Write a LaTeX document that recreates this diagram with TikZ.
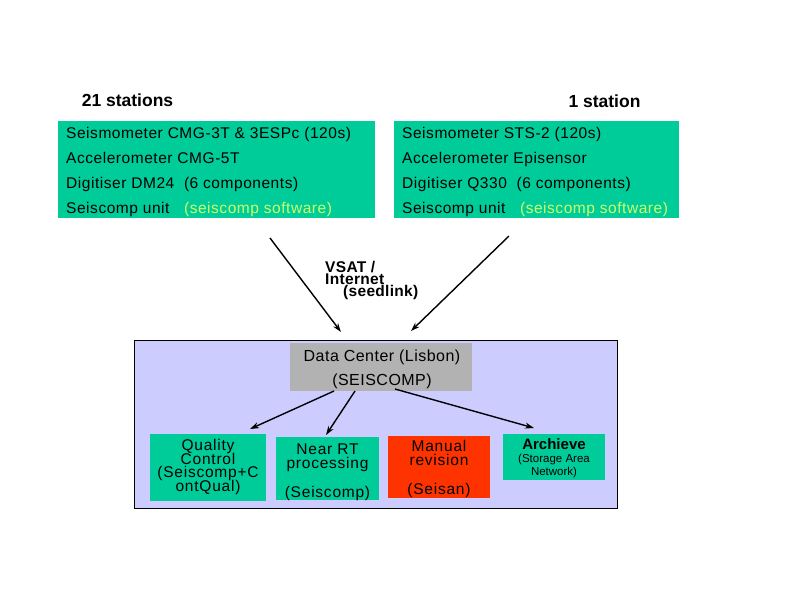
\documentclass[tikz,border=0pt]{standalone}
\usepackage{fontspec}
\setmainfont{Liberation Sans}
\usetikzlibrary{arrows.meta}
\definecolor{sgreen}{HTML}{00CC99}
\definecolor{sred}{HTML}{FF3300}
\definecolor{slav}{HTML}{CCCCFF}
\definecolor{sgray}{HTML}{B2B2B2}
\definecolor{syel}{HTML}{CCFF66}
\newcommand\fntTop{\fontsize{15.5}{16}\selectfont\addfontfeatures{LetterSpace=3.5}}
\newcommand\fntSub{\fontsize{15.5}{13.4}\selectfont\addfontfeatures{LetterSpace=5}\lineskiplimit=-100pt\relax}
\newcommand\fntDC{\fontsize{16}{24}\selectfont\addfontfeatures{LetterSpace=3}\lineskiplimit=-100pt\relax}
\newcommand\fntLink{\bfseries\fontsize{15.5}{11.8}\selectfont\addfontfeatures{LetterSpace=2}\lineskiplimit=-100pt\relax}
\newcommand\fntSmall{\mdseries\fontsize{11.5}{12}\selectfont\lineskiplimit=-100pt\relax}
\begin{document}
\begin{tikzpicture}[x=1pt,y=-1pt,
  panel/.style={anchor=north west, inner sep=0pt, outer sep=0pt},
  txt/.style={anchor=base west, inner sep=0pt, font=\fntTop},
  ctxt/.style={anchor=base, inner sep=0pt, align=center, font=\fntSub},
  head/.style={anchor=base, inner sep=0pt, font=\bfseries\fontsize{17.5}{18}\selectfont},
  arr/.style={line width=1.4pt, -{Stealth[length=9pt,width=6pt]}}]
\useasboundingbox (0,0) rectangle (794,595);
% headings
\node[head] (h1) at (127.5,106) {21 stations};
\node[head] (h2) at (604.5,107) {1 station};
% station boxes
\node[panel, fill=sgreen, minimum width=317pt, minimum height=97pt] (lbox) at (58,121) {};
\node[panel, fill=sgreen, minimum width=285pt, minimum height=97pt] (rbox) at (394,121) {};
\node[txt] (l1) at (66,138) {Seismometer CMG-3T \& 3ESPc (120s)};
\node[txt] (l2) at (66,163) {Accelerometer CMG-5T};
\node[txt] (l3) at (66,188) {Digitiser DM24\ \ (6 components)};
\node[txt] (l4) at (66,213) {Seiscomp unit\ \ \ \textcolor{syel}{(seiscomp software)}};
\node[txt] (r1) at (402,138) {Seismometer STS-2 (120s)};
\node[txt] (r2) at (402,163) {Accelerometer Episensor};
\node[txt] (r3) at (402,188) {Digitiser Q330\ \ (6 components)};
\node[txt] (r4) at (402,213) {Seiscomp unit\ \ \ \textcolor{syel}{(seiscomp software)}};
% link label (base anchor = last line)
\node[anchor=base west, inner sep=0pt, align=left, font=\fntLink] (vsat) at (325,296)
  {VSAT /\\Internet\\\hspace*{18pt}(seedlink)};
% data center panel
\node[panel, fill=slav, draw=black, line width=0.8pt, minimum width=483pt, minimum height=168pt] (dcp) at (134,340) {};
\node[panel, fill=sgray, minimum width=182pt, minimum height=48pt] (dc) at (290,343) {};
\node[ctxt, font=\fntDC] (dct) at (382,385) {Data Center (Lisbon)\\(SEISCOMP)};
% sub boxes
\node[panel, fill=sgreen, minimum width=116pt, minimum height=67pt] (qc) at (150,434) {};
\node[panel, fill=sgreen, minimum width=103pt, minimum height=63pt] (nrt) at (276,437) {};
\node[panel, fill=sred, minimum width=102pt, minimum height=62pt] (man) at (388,436) {};
\node[panel, fill=sgreen, minimum width=102pt, minimum height=46pt] (arc) at (503,434) {};
\node[ctxt] (qct) at (208,491) {Quality\\Control\\(Seiscomp+C\\ontQual)};
\node[ctxt] (nrtt) at (327.5,497.5) {Near RT\\processing\\[16pt](Seiscomp)};
\node[ctxt] (mant) at (439,494) {Manual\\revision\\[15.5pt](Seisan)};
\node[ctxt, font={\bfseries\fontsize{15}{13}\selectfont\lineskiplimit=-100pt\relax}] (arct) at (554,475.5) {Archieve\\{\fntSmall(Storage Area}\\{\fntSmall Network)}};
% connectors
\coordinate (s1) at (270,238);
\coordinate (e1) at (341,332);
\coordinate (s2) at (509,236);
\coordinate (e2) at (411,331);
\draw[arr] (s1) -- (e1);
\draw[arr] (s2) -- (e2);
\coordinate (d1) at (334,391);
\coordinate (d2) at (355,391);
\coordinate (d3) at (395,389);
\coordinate (t1) at (250,429);
\coordinate (t2) at (326,435);
\coordinate (t3) at (534,428);
\draw[arr] (d1) -- (t1);
\draw[arr] (d2) -- (t2);
\draw[arr] (d3) -- (t3);
\end{tikzpicture}
\end{document}
